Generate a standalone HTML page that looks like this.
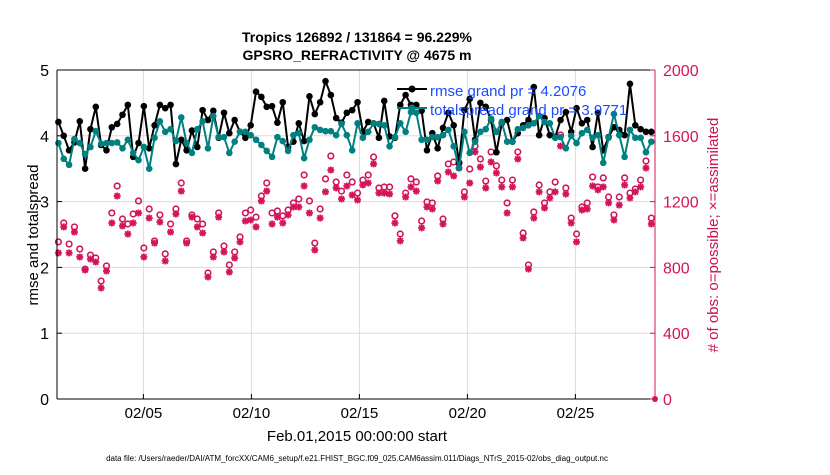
<!DOCTYPE html>
<html><head><meta charset="utf-8"><style>
body{margin:0;background:#fff;}
svg text{font-family:"Liberation Sans",sans-serif;}
</style></head><body>
<svg id="chart" width="830" height="470" xmlns="http://www.w3.org/2000/svg">
<rect width="830" height="470" fill="#fff"/>
<g id="grid"></g>
<g id="marks"></g>
<g id="axes"></g>
<text x="357" y="42" font-size="14" font-weight="bold" text-anchor="middle">Tropics 126892 / 131864 = 96.229%</text>
<text x="357" y="60" font-size="14" font-weight="bold" text-anchor="middle">GPSRO_REFRACTIVITY @ 4675 m</text>
<text transform="translate(38,235) rotate(-90)" font-size="15" text-anchor="middle">rmse and totalspread</text>
<text transform="translate(718,235) rotate(-90)" font-size="15" fill="#cc1155" text-anchor="middle"># of obs: o=possible; ×=assimilated</text>
<text x="357" y="441" font-size="15" text-anchor="middle">Feb.01,2015 00:00:00 start</text>
<text x="357" y="461" font-size="8" text-anchor="middle">data file: /Users/raeder/DAI/ATM_forcXX/CAM6_setup/f.e21.FHIST_BGC.f09_025.CAM6assim.011/Diags_NTrS_2015-02/obs_diag_output.nc</text>
<g>
<line x1="397" y1="89" x2="427" y2="89" stroke="#000" stroke-width="2"/>
<circle cx="412" cy="89" r="3.5" fill="#000"/>
<line x1="397" y1="108" x2="427" y2="108" stroke="#008080" stroke-width="2"/>
<circle cx="412" cy="108" r="3.5" fill="#008080"/>
<text x="430" y="96" font-size="15" fill="#1a4dff">rmse grand pr = 4.2076</text>
<text x="430" y="115" font-size="15" fill="#1a4dff">totalspread grand pr = 3.9771</text>
</g>
</svg>
<script>
const rmse=[4.21,4.0,3.78,3.9,4.22,3.5,4.1,4.44,3.86,3.78,4.13,4.18,4.32,4.47,3.68,3.89,4.45,3.81,4.16,4.47,4.42,4.47,3.57,3.94,3.78,4.08,3.83,4.39,4.24,
4.38,3.97,4.35,4.04,4.24,4.06,3.97,4.16,4.67,4.59,4.44,4.45,4.2,4.51,3.83,3.91,4.19,3.92,4.6,4.33,4.51,4.83,4.62,4.27,4.2,4.35,4.39,4.51,
4.06,4.21,4.19,3.97,4.53,3.99,3.97,4.47,4.62,4.47,4.47,4.38,3.78,4.04,3.81,4.12,4.35,4.16,3.59,4.39,4.56,3.94,4.5,4.44,4.24,3.75,4.19,4.24,
3.91,4.04,4.16,4.24,4.74,4.01,4.27,4.01,3.98,4.24,4.36,4.06,4.42,4.19,4.24,3.83,4.35,3.78,3.98,4.13,4.09,4.01,4.79,4.16,4.1,4.06,4.06];
const spread=[3.89,3.65,3.56,3.95,3.89,3.72,3.83,4.07,3.88,3.89,3.89,3.9,3.81,3.94,3.74,3.63,3.83,3.5,3.97,4.22,4.06,4.1,3.92,4.28,3.89,3.74,4.1,4.22,3.81,
4.3,3.98,3.98,3.74,3.91,4.06,4.06,4.01,3.94,3.86,3.77,3.68,3.98,3.92,3.77,4.01,4.04,3.66,3.94,4.13,4.09,4.07,4.07,4.01,4.18,4.01,3.78,4.19,
3.97,4.06,4.19,4.18,4.16,3.84,3.98,4.19,4.06,4.36,4.35,3.94,3.94,3.98,3.98,4.01,4.09,3.84,3.51,4.06,3.74,3.91,4.06,4.1,4.26,4.06,4.21,3.91,
3.91,4.1,4.12,4.16,4.19,4.3,4.21,4.19,3.97,3.98,3.81,4.0,3.89,4.04,4.09,3.97,4.01,3.59,3.97,4.33,4.01,3.68,4.09,3.97,3.97,3.75,3.91];
const possible=[955,1070,942,1046,912,790,875,857,717,809,1131,1295,1094,1064,1125,1204,918,1155,961,1119,882,1064,1155,1313,961,1119,1094,1064,766,
894,1131,930,815,894,985,1131,1149,1106,1234,1313,1131,1143,1113,1149,1192,1216,1362,1204,948,1155,1338,1477,1319,1264,1362,1319,1252,
1331,1362,1471,1283,1289,1289,1113,1003,1252,1338,1319,1082,1198,1192,1356,1094,1429,1441,1435,1259,1398,1538,1459,1325,1502,1417,1331,1192,
1331,1502,1009,815,1137,1301,1192,1259,1319,1605,1283,1100,1003,1167,1192,1350,1289,1344,1228,1119,1228,1344,1252,1277,1331,1447,1100];
const assimilated=[888,1046,888,1015,863,784,851,833,675,778,1070,1234,1052,1003,1070,1131,863,1100,948,1076,839,1015,1125,1264,948,1106,1046,1009,742,
863,1106,894,772,857,955,1082,1088,1046,1204,1264,1064,1106,1070,1119,1167,1167,1295,1131,906,1100,1259,1392,1283,1216,1295,1240,1210,
1301,1313,1429,1252,1252,1246,1070,961,1228,1289,1264,1040,1167,1155,1325,1064,1380,1356,1404,1228,1313,1502,1410,1283,1441,1374,1289,1131,
1289,1459,979,790,1100,1259,1161,1222,1259,1538,1246,1070,955,1149,1155,1295,1271,1289,1192,1088,1179,1301,1222,1259,1289,1404,1064];
const leftTicks=[0,1,2,3,4,5];
const rightTicks=[0,400,800,1200,1600,2000];
const dateTicks=[4,9,14,19,24];
const dateLabels=['02/05','02/10','02/15','02/20','02/25'];

const NS='http://www.w3.org/2000/svg';
const L=57,R=655,T=70,B=399;
const xDay=d=>L+d*21.6;
const xIdx=i=>xDay(0.065+i*0.2473);
const yL=v=>B-(v/5)*(B-T);
const yR=v=>B-(v/2000)*(B-T);
function mk(tag,attrs,parent){const e=document.createElementNS(NS,tag);for(const k in attrs)e.setAttribute(k,attrs[k]);parent.appendChild(e);return e;}
const grid=document.getElementById('grid'),marks=document.getElementById('marks'),axes=document.getElementById('axes');

rightTicks.forEach(v=>{if(v>0&&v<2000){const g=mk('line',{x1:L,x2:R,y1:yR(v),y2:yR(v),stroke:'#f0d0dc','stroke-width':1},grid);

}});
dateTicks.forEach(d=>{const g=mk('line',{x1:xDay(d),x2:xDay(d),y1:T,y2:B,stroke:'#dcdcdc','stroke-width':1},grid);

});

function star(x,y,p){const s=3.5;const g=mk('g',{stroke:'#d4145a','stroke-width':1.8},p);
mk('line',{x1:x-s,y1:y,x2:x+s,y2:y},g);mk('line',{x1:x,y1:y-s,x2:x,y2:y+s},g);
mk('line',{x1:x-s*0.75,y1:y-s*0.75,x2:x+s*0.75,y2:y+s*0.75},g);mk('line',{x1:x-s*0.75,y1:y+s*0.75,x2:x+s*0.75,y2:y-s*0.75},g);return g;}
possible.forEach((v,i)=>{const c=mk('circle',{cx:xIdx(i),cy:yR(v),r:2.8,fill:'none',stroke:'#d4145a','stroke-width':1.6},marks);

});
assimilated.forEach((v,i)=>{const s=star(xIdx(i),yR(v),marks);

});
const edge=mk('circle',{cx:R,cy:B,r:3,fill:'#d4145a'},marks);



function series(arr,color,name){
const p=mk('polyline',{points:arr.map((v,i)=>xIdx(i)+','+yL(v)).join(' '),fill:'none',stroke:color,'stroke-width':2},marks);


arr.forEach((v,i)=>{const c=mk('circle',{cx:xIdx(i),cy:yL(v),r:3.3,fill:color},marks);

});}
series(rmse,'#000','rmse');
series(spread,'#008080','totalspread');

mk('line',{x1:L,x2:R,y1:T,y2:T,stroke:'#000'},axes);
mk('line',{x1:L,x2:R,y1:B,y2:B,stroke:'#000'},axes);
mk('line',{x1:L,x2:L,y1:T,y2:B,stroke:'#000'},axes);
mk('line',{x1:R,x2:R,y1:T,y2:B,stroke:'#d4145a'},axes);
leftTicks.forEach(v=>{mk('line',{x1:L,x2:L+5,y1:yL(v),y2:yL(v),stroke:'#000'},axes);
const t=mk('text',{x:L-8,y:yL(v)+6,'font-size':16,'text-anchor':'end'},axes);t.textContent=v;

});
rightTicks.forEach(v=>{mk('line',{x1:R-5,x2:R,y1:yR(v),y2:yR(v),stroke:'#d4145a'},axes);
const t=mk('text',{x:R+8,y:yR(v)+6,'font-size':16,fill:'#d4145a'},axes);t.textContent=v;

});
dateTicks.forEach((d,k)=>{mk('line',{x1:xDay(d),x2:xDay(d),y1:B,y2:B-5,stroke:'#000'},axes);
const t=mk('text',{x:xDay(d),y:B+19,'font-size':15,'text-anchor':'middle'},axes);t.textContent=dateLabels[k];

});
</script>
</body></html>
